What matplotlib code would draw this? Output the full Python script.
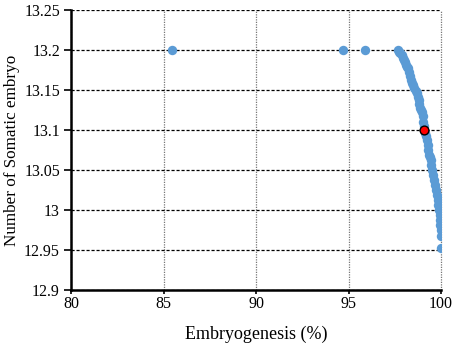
import matplotlib.pyplot as plt

# Pareto front points (Embryogenesis %, Number of somatic embryo)
embryo_pct = [85.44, 94.68, 95.91,
              97.65, 97.72, 97.80, 97.87, 97.93, 98.00, 98.05, 98.12, 98.18,
              98.23, 98.28, 98.32, 98.38, 98.45, 98.50, 98.56, 98.63, 98.69,
              98.74, 98.79, 98.83, 98.88, 98.92, 98.96, 99.00, 99.05, 99.08,
              99.14, 99.18, 99.23, 99.27, 99.32, 99.37, 99.40, 99.44, 99.48,
              99.53, 99.58, 99.64, 99.68, 99.73, 99.77, 99.82, 99.86, 99.89,
              99.92, 99.95, 99.97, 99.98, 100.0, 99.98]
somatic_embryo = [13.200, 13.200, 13.200,
                  13.200, 13.198, 13.196, 13.194, 13.190, 13.187, 13.185, 13.181, 13.179,
                  13.177, 13.172, 13.167, 13.162, 13.159, 13.156, 13.152, 13.149, 13.146,
                  13.141, 13.137, 13.133, 13.128, 13.125, 13.123, 13.117, 13.110, 13.105,
                  13.096, 13.092, 13.0875, 13.081, 13.075, 13.069, 13.066, 13.0625, 13.056,
                  13.050, 13.044, 13.0375, 13.031, 13.025, 13.019, 13.0125, 13.006, 13.000,
                  12.994, 12.9875, 12.981, 12.975, 12.967, 12.953]

best_x = [99.10]
best_y = [13.100]

x_ticks = [80, 85, 90, 95, 100]
y_ticks = [12.9, 12.95, 13.0, 13.05, 13.1, 13.15, 13.2, 13.25]
y_labels = ["12.9", "12.95", "13", "13.05", "13.1", "13.15", "13.2", "13.25"]

plt.rcParams["font.family"] = ["Liberation Serif", "DejaVu Serif"]

fig = plt.figure(figsize=(4.54, 3.46), dpi=100)
ax = fig.add_axes([0.1564, 0.1618, 0.815, 0.8093])

ax.scatter(embryo_pct, somatic_embryo, s=46, color="#5B9BD5", zorder=3,
           linewidths=0)
ax.scatter(best_x, best_y, s=40, color="#FF0000", edgecolors="black",
           linewidths=1.0, zorder=4)

ax.set_xlim(80, 100)
ax.set_ylim(12.9, 13.25)
ax.set_xticks(x_ticks)
ax.set_yticks(y_ticks)
ax.set_yticklabels(y_labels)

ax.yaxis.grid(True, color="black", linestyle=(0, (2.5, 1.5)), linewidth=0.9)
ax.xaxis.grid(True, color="#777777", linestyle=(0, (1, 1)), linewidth=0.9)
ax.set_axisbelow(True)
for gl in ax.xaxis.get_gridlines():
    gl.set_clip_on(False)

for s in ["top", "right"]:
    ax.spines[s].set_visible(False)
for s in ["left", "bottom"]:
    ax.spines[s].set_linewidth(1.8)

ax.tick_params(axis="y", direction="out", length=5, width=1.2,
               labelsize=11.5, pad=3)
ax.tick_params(axis="x", direction="out", length=3, width=1.2,
               labelsize=11.5, pad=1.5)

ax.set_xlabel("Embryogenesis (%)", fontsize=13, labelpad=10)
ax.set_ylabel("Number of Somatic embryo", fontsize=12.3)
ax.yaxis.set_label_coords(-0.138, 0.5)

fig.savefig("out.png", dpi=100)
